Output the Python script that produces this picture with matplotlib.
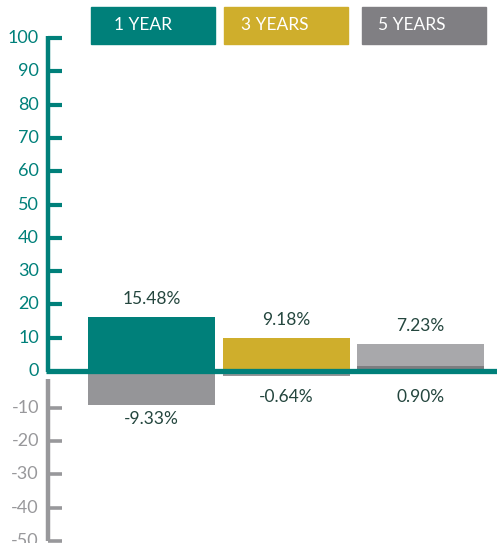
import matplotlib.pyplot as plt
from matplotlib.patches import Rectangle

plt.rcParams['font.family'] = ['Lato', 'DejaVu Sans']

# data
periods = ['1 YEAR', '3 YEARS', '5 YEARS']
upper = [15.48, 9.18, 7.23]
lower = [-9.33, -0.64, 0.90]
pos_ticks = [0, 10, 20, 30, 40, 50, 60, 70, 80, 90, 100]
neg_ticks = [-10, -20, -30, -40, -50]

TEAL = '#00807a'
GOLD = '#cfae2c'
GRAY = '#807f83'
upper_colors = [TEAL, GOLD, '#a8a8ab']
lower_colors = ['#959598', '#959598', '#7d7d80']
LABEL = '#24463e'
NEG_AXIS = '#98989b'

W, H = 497, 543
fig = plt.figure(figsize=(W / 100, H / 100), dpi=100)
ax = fig.add_axes([0, 0, 1, 1])

# pixel layout -> data limits
px_per_unit = 3.33
zero_px = 371
ax.set_ylim(-(H - zero_px) / px_per_unit, zero_px / px_per_unit)
xstep = 134.5
x0 = 151.5
xmin, xmax = -x0 / xstep, (W - x0) / xstep
ax.set_xlim(xmin, xmax)
ax.axis('off')

yt = ax.get_yaxis_transform()
axis_x = 48 / W
tick_end = 62 / W
off = 0.75  # half thickness of the zero line in data units
width = 127 / xstep

for i in range(len(periods)):
    ax.bar(i, upper[i], bottom=off, width=width, color=upper_colors[i], zorder=2)
    lo = lower[i]
    ax.bar(i, lo, bottom=off if lo > 0 else -off, width=width,
           color=lower_colors[i], zorder=3)
    ax.annotate(f'{upper[i]:.2f}%', (i, upper[i] + off), xytext=(0, 13),
                textcoords='offset points', ha='center', va='center',
                fontsize=12.5, color=LABEL)
    base = min(min(lo, 0) - off, -3.5)
    ax.annotate(f'{lo:.2f}%', (i, base), xytext=(0, -10.5),
                textcoords='offset points', ha='center', va='center',
                fontsize=12.5, color=LABEL)

# zero line
ax.plot([xmin + 46 / W * (xmax - xmin), xmax], [0, 0], color=TEAL, lw=3.8,
        zorder=4, solid_capstyle='butt')

# positive axis
ax.plot([axis_x, axis_x], [-0.3, 100.6], transform=yt, color=TEAL, lw=3.2,
        solid_capstyle='butt', zorder=4)
for t in pos_ticks:
    if t > 0:
        ax.plot([axis_x, tick_end], [t, t], transform=yt, color=TEAL, lw=3,
                solid_capstyle='butt', zorder=4)
    ax.text(39 / W, t, str(t), transform=yt, ha='right', va='center',
            fontsize=13, color=TEAL)

# negative axis
ax.plot([axis_x, axis_x], [-2.4, -51], transform=yt, color=NEG_AXIS, lw=3.2,
        solid_capstyle='butt', zorder=4)
for t in neg_ticks:
    ax.plot([axis_x, tick_end], [t - 1, t - 1], transform=yt, color=NEG_AXIS,
            lw=2.6, solid_capstyle='butt', zorder=4)
    ax.text(39 / W, t - 1, str(t), transform=yt, ha='right', va='center',
            fontsize=13, color=NEG_AXIS)

# legend boxes
boxes = [(91, 215), (224, 348), (362, 486)]
text_x = [114, 241, 378]
for (l, r), tx, name, c in zip(boxes, text_x, periods, [TEAL, GOLD, GRAY]):
    fig.patches.append(Rectangle((l / W, 1 - 44 / H), (r - l) / W, 37 / H,
                                 transform=fig.transFigure, color=c))
    fig.text(tx / W, 1 - 25.5 / H, name, ha='left', va='center',
             fontsize=12.5, color='white')

fig.savefig('out.png', dpi=100)
